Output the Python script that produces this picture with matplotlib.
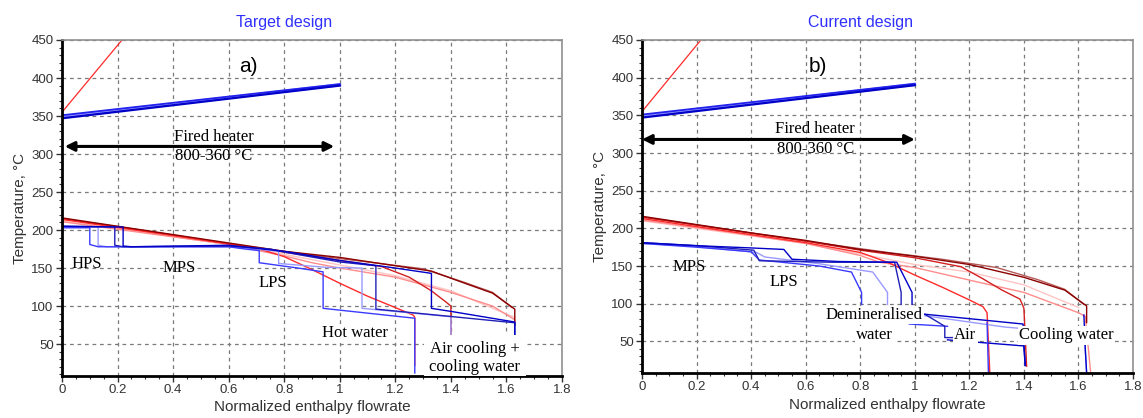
import matplotlib
matplotlib.use("Agg")
import matplotlib.pyplot as plt
from matplotlib.ticker import MultipleLocator

# ---------------- data (panel a: target design) ----------------
fh_red_x = [0.0, 0.25]
fh_red_y = [355, 465]
fh_blue_x = [0.0, 1.0]
fh_blue1_y = [347, 390]
fh_blue2_y = [351, 392]
fh_blue3_y = [349, 391]

a_maroon_x = [0, 0.2, 0.4, 0.6, 0.8, 1.0, 1.2, 1.33, 1.45, 1.55, 1.63, 1.63]
a_maroon_y = [216, 205, 194, 183, 172, 164, 153, 146, 130, 117, 96, 75]
a_rosy_x = [0, 0.3, 0.6, 0.9, 1.1, 1.3, 1.45, 1.55, 1.62]
a_rosy_y = [215, 199, 182, 167, 158, 149, 131, 118, 98]
a_red_x = [0, 0.3, 0.6, 0.72, 0.8, 0.9, 1.0, 1.1, 1.2, 1.265, 1.27, 1.27]
a_red_y = [214, 198, 182, 174, 165, 148, 130, 113, 98, 88, 85, 22]
a_dred_x = [0, 0.3, 0.6, 0.8, 1.0, 1.15, 1.25, 1.33, 1.38, 1.4, 1.4]
a_dred_y = [215, 199, 182, 171, 160, 152, 138, 120, 106, 100, 60]
a_pink_x = [0, 0.3, 0.6, 0.8, 0.9, 1.0, 1.2, 1.4, 1.55, 1.63, 1.63]
a_pink_y = [211, 196, 181, 166, 157, 150, 138, 118, 100, 82, 75]
a_lpink_x = [0, 0.3, 0.6, 0.8, 1.0, 1.2, 1.4, 1.63]
a_lpink_y = [212, 197, 181, 168, 154, 140, 120, 85]

a_c1_x = [0, 0.1, 0.1, 0.13, 0.6, 0.66, 0.71, 0.71, 0.85, 0.94, 0.94, 1.27, 1.27]
a_c1_y = [203, 203, 181, 178, 178, 175, 173, 157, 150, 145, 97, 84, 12]
a_c2_x = [0, 0.13, 0.13, 0.16, 0.6, 0.7, 0.78, 0.78, 0.95, 1.08, 1.08, 1.4, 1.4]
a_c2_y = [204, 204, 180, 178, 178, 175, 172, 156, 151, 150, 97, 86, 58]
a_c3_x = [0, 0.19, 0.19, 0.22, 0.6, 0.75, 0.8, 1.0, 1.13, 1.13, 1.63, 1.63]
a_c3_y = [205, 204, 180, 178, 179, 175, 171, 158, 153, 96, 78, 58]
a_c4_x = [0, 0.22, 0.22, 0.25, 0.6, 0.8, 1.0, 1.2, 1.33, 1.33, 1.4, 1.63, 1.63]
a_c4_y = [205, 204, 179, 178, 180, 172, 160, 150, 143, 97, 93, 79, 58]

# ---------------- data (panel b: current design) ----------------
b_maroon_x = [0, 0.2, 0.4, 0.6, 0.8, 1.0, 1.2, 1.4, 1.55, 1.63, 1.63]
b_maroon_y = [216, 205, 194, 184, 172, 163, 152, 135, 118, 97, 75]
b_rosy_x = [0, 0.3, 0.6, 0.9, 1.1, 1.3, 1.45, 1.55, 1.62]
b_rosy_y = [215, 199, 183, 168, 159, 148, 132, 119, 99]
b_red_x = [0, 0.3, 0.6, 0.8, 0.9, 1.0, 1.1, 1.2, 1.25, 1.265, 1.275]
b_red_y = [213, 197, 181, 168, 155, 138, 122, 105, 96, 88, 8]
b_dred_x = [0, 0.3, 0.6, 0.8, 1.0, 1.17, 1.25, 1.32, 1.386, 1.40, 1.41]
b_dred_y = [215, 199, 183, 171, 161, 149, 133, 118, 106, 94, 17]
b_pink_x = [0, 0.3, 0.6, 0.8, 0.87, 1.0, 1.24, 1.4, 1.6, 1.625, 1.645]
b_pink_y = [211, 196, 180, 164, 155, 148, 128, 115, 88, 83, 8]
b_lpink_x = [0, 0.3, 0.6, 0.8, 1.0, 1.2, 1.4, 1.6]
b_lpink_y = [210, 195, 180, 166, 152, 142, 125, 95]

b_c1_x = [0, 0.2, 0.4, 0.52, 0.55, 0.72, 0.934, 0.99, 0.99]
b_c1_y = [181, 177, 174, 172, 159, 156, 155, 115, 99]
b_c2_x = [0, 0.2, 0.4, 0.43, 0.65, 0.768, 0.805, 0.805]
b_c2_y = [180, 175, 169, 158, 150, 142, 115, 99]
b_c3_x = [0, 0.2, 0.42, 0.45, 0.65, 0.846, 0.9, 0.9]
b_c3_y = [180, 176, 168, 162, 153, 142, 115, 99]
b_c4_x = [0, 0.2, 0.41, 0.43, 0.7, 0.926, 0.95, 0.95]
b_c4_y = [181, 177, 171, 157, 155, 155, 115, 99]
b_demin_x = [1.037, 1.397, 1.40, 1.405]
b_demin_y = [86, 73, 45, 18]
b_air1_x = [1.037, 1.11, 1.11, 1.14]
b_air1_y = [86, 70, 55, 55]
b_air2_x = [1.037, 1.33, 1.62, 1.625, 1.63]
b_air2_y = [84, 69, 60, 40, 8]
b_air3_x = [0.98, 1.12]
b_air3_y = [73, 70]
b_cw_x = [1.12, 1.397, 1.40, 1.405]
b_cw_y = [52, 44, 44, 18]
b_cw2_x = [1.62, 1.625, 1.63]
b_cw2_y = [85, 40, 8]
b_hw_x = [1.265, 1.27]
b_hw_y = [75, 8]

x_ticks = [0, 0.2, 0.4, 0.6, 0.8, 1.0, 1.2, 1.4, 1.6, 1.8]
x_labels = ["0", "0.2", "0.4", "0.6", "0.8", "1", "1.2", "1.4", "1.6", "1.8"]
y_ticks = [50, 100, 150, 200, 250, 300, 350, 400, 450]

# ---------------- styling ----------------
SANS = "Liberation Sans"
SERIF = "Liberation Serif"
MAROON = "#8B0000"
ROSY = "#B55A5A"
RED = "#FF2A2A"
DRED = "#D42020"
PINK = "#FF8C8C"
LPINK = "#FFC4C4"
B1 = "#3A3AFF"
B2 = "#9A9AFF"
B3 = "#2020B8"
B4 = "#0000C8"

fig = plt.figure(figsize=(11.43, 4.18), dpi=100)
ax1 = fig.add_axes([62 / 1143, 42 / 418, 500 / 1143, 336 / 418])
ax2 = fig.add_axes([642 / 1143, 45 / 418, 491 / 1143, 333 / 418])


def setup(ax, title):
    ax.set_xlim(0, 1.8)
    ax.set_ylim(8, 450)
    ax.set_xticks(x_ticks)
    ax.set_xticklabels(x_labels)
    ax.set_yticks(y_ticks)
    ax.xaxis.set_minor_locator(MultipleLocator(0.05))
    ax.yaxis.set_minor_locator(MultipleLocator(10))
    ax.grid(True, which="major", color="#7a7a7a", linestyle=(0, (3, 3)), linewidth=0.9)
    ax.tick_params(which="major", direction="out", length=4, width=1, labelsize=9.5,
                   labelcolor="#333333", color="#333333", pad=2)
    ax.tick_params(which="minor", direction="out", length=2.5, width=0.8, color="#333333")
    for lab in ax.get_xticklabels() + ax.get_yticklabels():
        lab.set_family(SANS)
    for s in ("left", "bottom"):
        ax.spines[s].set_linewidth(2.0)
        ax.spines[s].set_color("black")
    for s in ("right", "top"):
        ax.spines[s].set_linewidth(1.2)
        ax.spines[s].set_color("#909090")
    ax.set_xlabel("Normalized enthalpy flowrate", family=SANS, fontsize=11,
                  color="#333333", labelpad=3)
    ax.set_ylabel("Temperature, °C", family=SANS, fontsize=11, color="#333333", labelpad=3)
    ax.text(0.8, 1.03, title, transform=ax.get_xaxis_transform(), family=SANS,
            fontsize=11.5, color="#2F2FFF", ha="center", va="bottom")
    # fired heater region
    ax.plot(fh_red_x, fh_red_y, color=RED, lw=0.9, clip_on=True)
    ax.plot(fh_blue_x, fh_blue3_y, color=B2, lw=2.2)
    ax.plot(fh_blue_x, fh_blue2_y, color="#2222EE", lw=1.3)
    ax.plot(fh_blue_x, fh_blue1_y, color=B4, lw=1.6)


setup(ax1, "Target design")
setup(ax2, "Current design")

lw = 1.0
# panel a curves
for xs, ys, c in [(a_lpink_x, a_lpink_y, LPINK), (a_pink_x, a_pink_y, PINK),
                  (a_rosy_x, a_rosy_y, ROSY), (a_dred_x, a_dred_y, DRED),
                  (a_red_x, a_red_y, RED), (a_maroon_x, a_maroon_y, MAROON),
                  (a_c2_x, a_c2_y, B2), (a_c1_x, a_c1_y, B1),
                  (a_c3_x, a_c3_y, B3), (a_c4_x, a_c4_y, B4)]:
    ax1.plot(xs, ys, color=c, lw=lw)

# panel b curves
for xs, ys, c in [(b_lpink_x, b_lpink_y, LPINK), (b_pink_x, b_pink_y, PINK),
                  (b_rosy_x, b_rosy_y, ROSY), (b_dred_x, b_dred_y, DRED),
                  (b_red_x, b_red_y, RED), (b_maroon_x, b_maroon_y, MAROON),
                  (b_c3_x, b_c3_y, B2), (b_c2_x, b_c2_y, B1),
                  (b_c4_x, b_c4_y, B3), (b_c1_x, b_c1_y, B4),
                  (b_air2_x, b_air2_y, B2), (b_air3_x, b_air3_y, B1),
                  (b_air1_x, b_air1_y, B3), (b_demin_x, b_demin_y, B4),
                  (b_cw_x, b_cw_y, B4), (b_cw2_x, b_cw2_y, B4), (b_hw_x, b_hw_y, B1)]:
    ax2.plot(xs, ys, color=c, lw=lw)

# arrows and fired heater labels
arrow = dict(arrowstyle="<|-|>", color="black", lw=2.2, mutation_scale=14,
             shrinkA=0, shrinkB=0)
ax1.annotate("", xy=(0.01, 310), xytext=(0.98, 310), arrowprops=arrow)
ax2.annotate("", xy=(0.0, 318), xytext=(1.0, 318), arrowprops=arrow)

tk = dict(family=SERIF, fontsize=12, ha="center", va="center", color="black")
ax1.text(0.545, 322, "Fired heater", **tk)
ax1.text(0.545, 297, "800-360 °C", **tk)
ax2.text(0.635, 332, "Fired heater", **tk)
ax2.text(0.635, 305, "800-360 °C", **tk)

ax1.text(0.67, 415, "a)", family=SANS, fontsize=15, ha="center", va="center")
ax2.text(0.645, 415, "b)", family=SANS, fontsize=15, ha="center", va="center")

box = dict(facecolor="white", edgecolor="none", pad=1.0)
ax1.text(0.09, 155, "HPS", **tk)
ax1.text(0.42, 150, "MPS", **tk)
ax1.text(0.76, 130, "LPS", **tk)
ax1.text(1.055, 64, "Hot water", bbox=box, **tk)
ax1.text(1.485, 32, "Air cooling +\ncooling water", linespacing=1.15,
         bbox=dict(facecolor="white", edgecolor="none", pad=4), zorder=5,
         clip_on=True, **tk)

ax2.text(0.173, 149, "MPS", **tk)
ax2.text(0.52, 129, "LPS", **tk)
ax2.text(0.851, 85, "Demineralised", bbox=box, zorder=5, **tk)
ax2.text(0.853, 58, "water", bbox=box, zorder=5, **tk)
ax2.text(1.185, 58, "Air", bbox=box, zorder=5, **tk)
ax2.text(1.555, 58, "Cooling water", bbox=box, zorder=5, **tk)

fig.savefig("out.png", dpi=100)
